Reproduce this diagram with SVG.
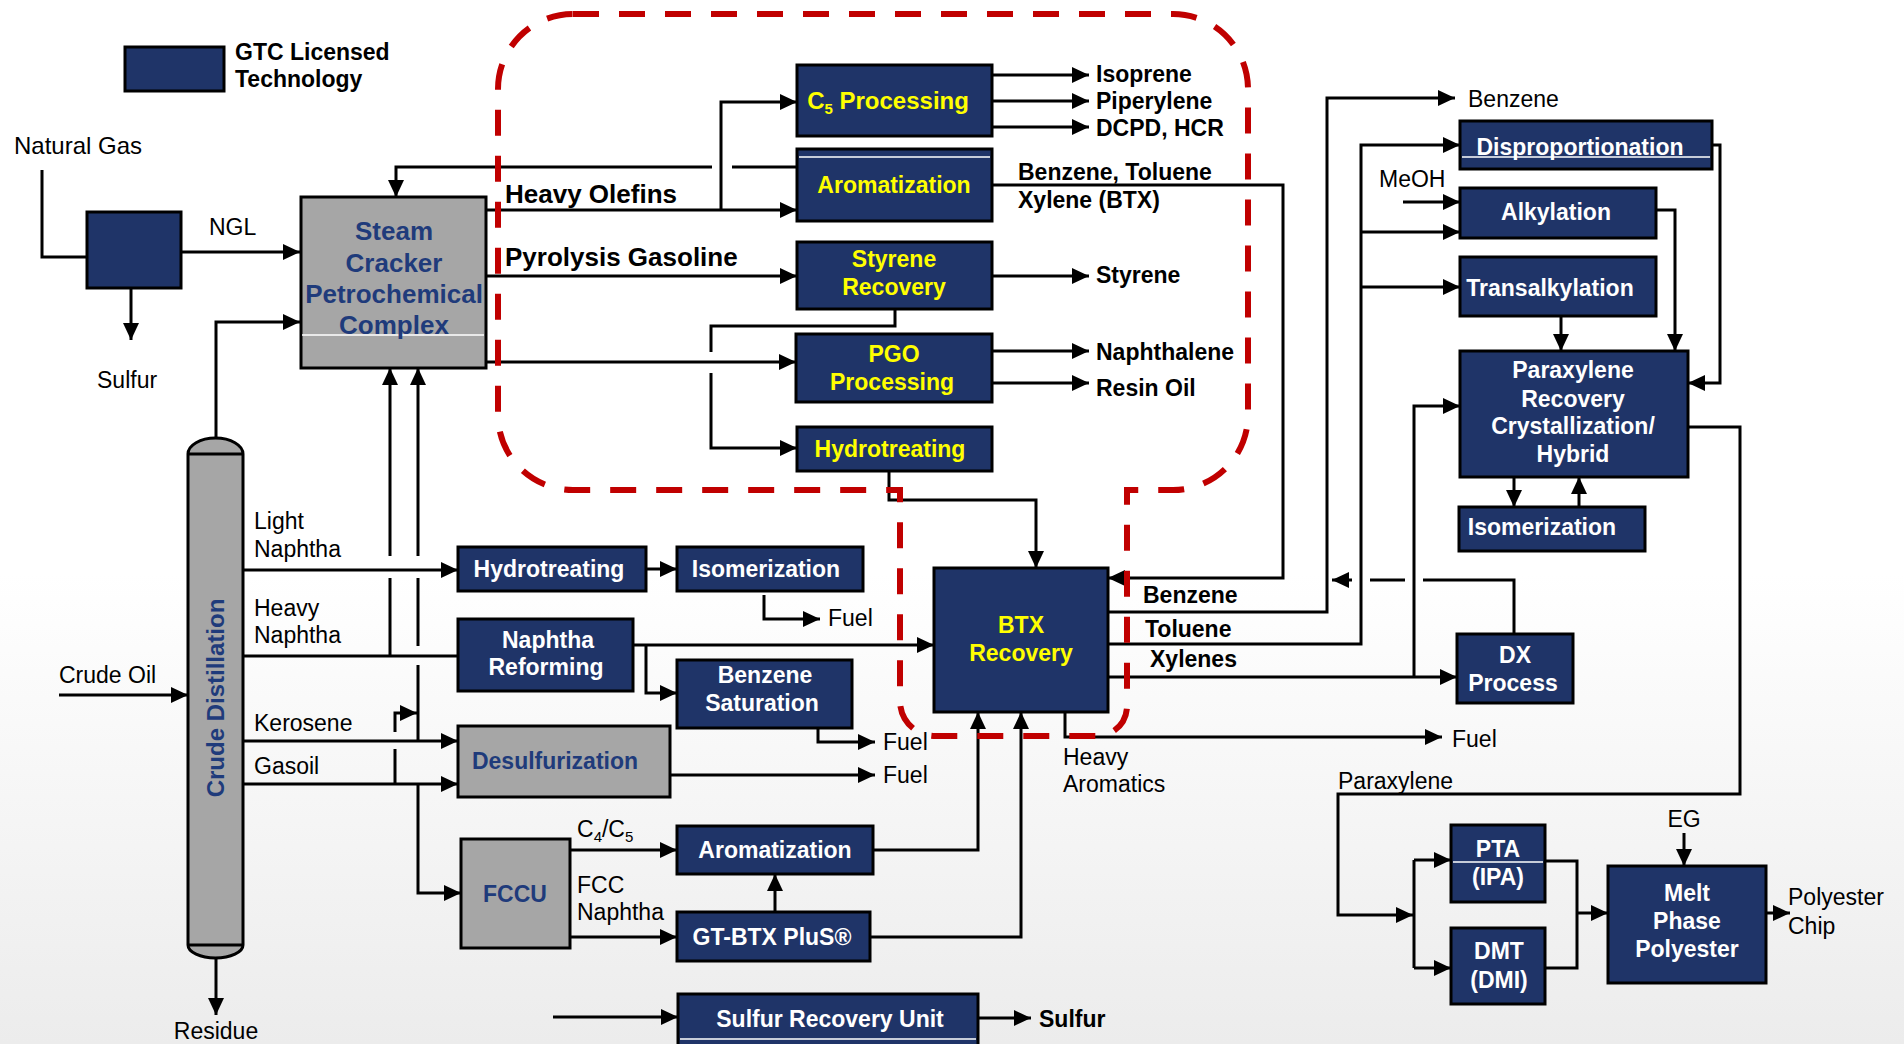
<svg xmlns="http://www.w3.org/2000/svg" width="1904" height="1044" viewBox="0 0 1904 1044">
<defs>
<linearGradient id="bg" x1="0" y1="0" x2="0" y2="1">
<stop offset="0" stop-color="#ffffff"/>
<stop offset="0.55" stop-color="#ffffff"/>
<stop offset="1" stop-color="#ececec"/>
</linearGradient>
<marker id="ah" markerUnits="userSpaceOnUse" markerWidth="17" markerHeight="16" refX="17" refY="8" orient="auto">
<path d="M0,0 L17,8 L0,16 z" fill="#000"/>
</marker>
</defs>
<style>
.nv{fill:#1f3468;stroke:#000;stroke-width:3}
.gy{fill:#a6a6a6;stroke:#000;stroke-width:3}
.ln{fill:none;stroke:#000;stroke-width:3}
.ar{fill:none;stroke:#000;stroke-width:3;marker-end:url(#ah)}
.wl{stroke:#fff;stroke-width:1.5}
text{font-family:"Liberation Sans",Arial,sans-serif}
.w{fill:#fff;font-weight:bold;font-size:23px;text-anchor:middle}
.y{fill:#ffff00;font-weight:bold;font-size:23px;text-anchor:middle}
.b{fill:#1f3b7b;font-weight:bold;font-size:23px;text-anchor:middle}
.l{fill:#000;font-size:23px}
.lb{fill:#000;font-size:23px;font-weight:bold}
</style>
<rect x="0" y="0" width="1904" height="1044" fill="url(#bg)"/>

<g id="legend">
<rect x="125" y="47" width="99" height="44" class="nv"/>
<text x="235" y="60" class="lb">GTC Licensed</text>
<text x="235" y="87" class="lb">Technology</text>
</g>

<g id="connectors">
<path class="ln" d="M42,170 V257 H87"/>
<path class="ar" d="M181,252 H300"/>
<path class="ar" d="M131,288 V340"/>
<path class="ar" d="M216,438 V322 H300"/>
<path class="ar" d="M797,167 H732 M712,167 H396 V197"/>
<path class="ar" d="M486,210 H797"/>
<path class="ar" d="M721,210 V102 H797"/>
<path class="ar" d="M486,276 H797"/>
<path class="ar" d="M486,362 H796"/>
<path class="ar" d="M895,309 V326 H711 V352 M711,373 V448 H797"/>
<path class="ar" d="M992,75 H1089"/>
<path class="ar" d="M992,101 H1089"/>
<path class="ar" d="M992,127 H1089"/>
<path class="ar" d="M992,276 H1089"/>
<path class="ar" d="M992,351 H1089"/>
<path class="ar" d="M992,383 H1089"/>
<path class="ar" d="M992,185 H1283 V578 H1108"/>
<path class="ar" d="M889,471 V500 H1036 V568"/>
<path class="ar" d="M243,570 H458"/>
<path class="ar" d="M646,569 H677"/>
<path class="ar" d="M764,595 V619 H820"/>
<path class="ln" d="M243,656 H458"/>
<path class="ar" d="M390,656 V578 M390,556 V368"/>
<path class="ar" d="M418,741 V665 M418,646 V578 M418,556 V368"/>
<path class="ar" d="M243,741 H458"/>
<path class="ar" d="M243,784 H458"/>
<path class="ar" d="M395,784 V749 M395,732 V713 H417"/>
<path class="ar" d="M418,784 V893 H461"/>
<path class="ar" d="M633,645 H934"/>
<path class="ar" d="M646,645 V693 H677"/>
<path class="ar" d="M818,728 V742 H875"/>
<path class="ar" d="M670,775 H875"/>
<path class="ar" d="M570,850 H677"/>
<path class="ar" d="M570,937 H677"/>
<path class="ar" d="M775,912 V874"/>
<path class="ar" d="M873,850 H978 V712"/>
<path class="ar" d="M870,937 H1021 V712"/>
<path class="ar" d="M553,1017 H678"/>
<path class="ar" d="M978,1018 H1031"/>
<path class="ar" d="M59,695 H188"/>
<path class="ar" d="M216,958 V1015"/>
<path class="ar" d="M1108,612 H1327 V98 H1455"/>
<path class="ar" d="M1108,644 H1361 V145 H1460"/>
<path class="ar" d="M1361,232 H1460"/>
<path class="ar" d="M1361,287 H1460"/>
<path class="ar" d="M1403,202 H1460"/>
<path class="ar" d="M1108,677 H1457"/>
<path class="ar" d="M1414,677 V406 H1460"/>
<path class="ar" d="M1514,634 V580 H1423 M1405,580 H1370 M1352,580 H1332"/>
<path class="ar" d="M1065,712 V737 H1442"/>
<path class="ar" d="M1561,316 V351"/>
<path class="ar" d="M1656,210 H1675 V351"/>
<path class="ar" d="M1712,145 H1720 V383 H1688"/>
<path class="ar" d="M1514,477 V507"/>
<path class="ar" d="M1579,507 V477"/>
<path class="ar" d="M1688,427 H1740 V794 H1338 V915 H1413"/>
<path class="ln" d="M1414,860 V968"/>
<path class="ar" d="M1414,860 H1451"/>
<path class="ar" d="M1414,968 H1451"/>
<path class="ln" d="M1545,861 H1577 V968 H1545"/>
<path class="ar" d="M1577,913 H1608"/>
<path class="ar" d="M1684,833 V866"/>
<path class="ar" d="M1766,913 H1790"/>
</g>

<g id="labels">
<text x="14" y="154" class="l" style="font-size:24px">Natural Gas</text>
<text x="209" y="235" class="l">NGL</text>
<text x="97" y="388" class="l">Sulfur</text>
<text x="505" y="203" class="lb" style="font-size:26px">Heavy Olefins</text>
<text x="505" y="266" class="lb" style="font-size:26px">Pyrolysis Gasoline</text>
<text x="1096" y="82" class="lb">Isoprene</text>
<text x="1096" y="109" class="lb">Piperylene</text>
<text x="1096" y="136" class="lb">DCPD, HCR</text>
<text x="1018" y="180" class="lb">Benzene, Toluene</text>
<text x="1018" y="208" class="lb">Xylene (BTX)</text>
<text x="1096" y="283" class="lb">Styrene</text>
<text x="1096" y="360" class="lb">Naphthalene</text>
<text x="1096" y="396" class="lb">Resin Oil</text>
<text x="254" y="529" class="l">Light</text>
<text x="254" y="557" class="l">Naphtha</text>
<text x="254" y="616" class="l">Heavy</text>
<text x="254" y="643" class="l">Naphtha</text>
<text x="254" y="731" class="l">Kerosene</text>
<text x="254" y="774" class="l">Gasoil</text>
<text x="59" y="683" class="l">Crude Oil</text>
<text x="216" y="1039" class="l" text-anchor="middle">Residue</text>
<text x="828" y="626" class="l">Fuel</text>
<text x="883" y="750" class="l">Fuel</text>
<text x="883" y="783" class="l">Fuel</text>
<text x="577" y="837" class="l">C<tspan font-size="15" dy="5">4</tspan><tspan dy="-5">/C</tspan><tspan font-size="15" dy="5">5</tspan></text>
<text x="577" y="893" class="l">FCC</text>
<text x="577" y="920" class="l">Naphtha</text>
<text x="1039" y="1027" class="lb">Sulfur</text>
<text x="1063" y="765" class="l">Heavy</text>
<text x="1063" y="792" class="l">Aromatics</text>
<text x="1143" y="603" class="lb">Benzene</text>
<text x="1145" y="637" class="lb">Toluene</text>
<text x="1150" y="667" class="lb">Xylenes</text>
<text x="1468" y="107" class="l">Benzene</text>
<text x="1379" y="187" class="l">MeOH</text>
<text x="1452" y="747" class="l">Fuel</text>
<text x="1338" y="789" class="l">Paraxylene</text>
<text x="1684" y="827" class="l" text-anchor="middle">EG</text>
<text x="1788" y="905" class="l">Polyester</text>
<text x="1788" y="934" class="l">Chip</text>
</g>

<g id="ngl-unit"><rect x="87" y="212" width="94" height="76" class="nv"/></g>

<g id="steam-cracker">
<rect x="301" y="197" width="185" height="171" class="gy"/>
<line x1="302" y1="335" x2="484" y2="335" class="wl"/>
<text x="394" y="240" class="b" style="font-size:26px">Steam</text>
<text x="394" y="272" class="b" style="font-size:26px">Cracker</text>
<text x="394" y="303" class="b" style="font-size:26px">Petrochemical</text>
<text x="394" y="334" class="b" style="font-size:26px">Complex</text>
</g>

<g id="crude-distillation">
<path d="M188,454 A27.5,16 0 0 1 243,454 V945 A27.5,13 0 0 1 188,945 Z" class="gy"/>
<line x1="188" y1="454" x2="243" y2="454" class="ln"/>
<line x1="188" y1="945" x2="243" y2="945" class="ln"/>
<text x="0" y="0" class="b" style="font-size:24px" transform="translate(224,698) rotate(-90)">Crude Distillation</text>
</g>

<g id="c5-processing">
<rect x="797" y="65" width="195" height="71" class="nv"/>
<text x="888" y="109" class="y" style="font-size:24px">C<tspan font-size="15" dy="5">5</tspan><tspan dy="-5"> Processing</tspan></text>
</g>
<g id="aromatization-top">
<rect x="797" y="149" width="195" height="72" class="nv"/>
<line x1="799" y1="157" x2="990" y2="157" class="wl"/>
<text x="894" y="193" class="y">Aromatization</text>
</g>
<g id="styrene-recovery">
<rect x="797" y="242" width="195" height="67" class="nv"/>
<text x="894" y="267" class="y">Styrene</text>
<text x="894" y="295" class="y">Recovery</text>
</g>
<g id="pgo-processing">
<rect x="796" y="334" width="196" height="68" class="nv"/>
<text x="894" y="362" class="y">PGO</text>
<text x="892" y="390" class="y">Processing</text>
</g>
<g id="hydrotreating-top">
<rect x="797" y="427" width="195" height="44" class="nv"/>
<text x="890" y="457" class="y">Hydrotreating</text>
</g>
<g id="hydrotreating">
<rect x="458" y="547" width="188" height="44" class="nv"/>
<text x="549" y="577" class="w">Hydrotreating</text>
</g>
<g id="isomerization">
<rect x="677" y="547" width="186" height="44" class="nv"/>
<text x="766" y="577" class="w">Isomerization</text>
</g>
<g id="naphtha-reforming">
<rect x="458" y="619" width="175" height="72" class="nv"/>
<text x="548" y="648" class="w">Naphtha</text>
<text x="546" y="675" class="w">Reforming</text>
</g>
<g id="benzene-saturation">
<rect x="677" y="660" width="175" height="68" class="nv"/>
<text x="765" y="683" class="w">Benzene</text>
<text x="762" y="711" class="w">Saturation</text>
</g>
<g id="desulfurization">
<rect x="458" y="726" width="212" height="71" class="gy"/>
<text x="555" y="769" class="b">Desulfurization</text>
</g>
<g id="fccu">
<rect x="461" y="839" width="109" height="109" class="gy"/>
<text x="515" y="902" class="b">FCCU</text>
</g>
<g id="aromatization-fcc">
<rect x="677" y="826" width="196" height="48" class="nv"/>
<text x="775" y="858" class="w">Aromatization</text>
</g>
<g id="gt-btx-plus">
<rect x="677" y="912" width="193" height="49" class="nv"/>
<text x="772" y="945" class="w">GT-BTX PluS®</text>
</g>
<g id="sulfur-recovery">
<rect x="678" y="994" width="300" height="54" class="nv"/>
<line x1="680" y1="1039" x2="976" y2="1039" class="wl"/>
<text x="830" y="1027" class="w">Sulfur Recovery Unit</text>
</g>
<g id="btx-recovery">
<rect x="934" y="568" width="174" height="144" class="nv"/>
<text x="1021" y="633" class="y">BTX</text>
<text x="1021" y="661" class="y">Recovery</text>
</g>
<g id="disproportionation">
<rect x="1460" y="121" width="252" height="48" class="nv"/>
<line x1="1462" y1="157" x2="1710" y2="157" class="wl"/>
<text x="1580" y="155" class="w">Disproportionation</text>
</g>
<g id="alkylation">
<rect x="1460" y="188" width="196" height="50" class="nv"/>
<text x="1556" y="220" class="w">Alkylation</text>
</g>
<g id="transalkylation">
<rect x="1460" y="257" width="196" height="59" class="nv"/>
<text x="1550" y="296" class="w">Transalkylation</text>
</g>
<g id="paraxylene-recovery">
<rect x="1460" y="351" width="228" height="126" class="nv"/>
<text x="1573" y="378" class="w">Paraxylene</text>
<text x="1573" y="407" class="w">Recovery</text>
<text x="1573" y="434" class="w">Crystallization/</text>
<text x="1573" y="462" class="w">Hybrid</text>
</g>
<g id="isomerization-px">
<rect x="1459" y="507" width="186" height="44" class="nv"/>
<text x="1542" y="535" class="w">Isomerization</text>
</g>
<g id="dx-process">
<rect x="1457" y="634" width="116" height="69" class="nv"/>
<text x="1515" y="663" class="w">DX</text>
<text x="1513" y="691" class="w">Process</text>
</g>
<g id="pta">
<rect x="1451" y="825" width="94" height="77" class="nv"/>
<line x1="1453" y1="862" x2="1543" y2="862" class="wl"/>
<text x="1498" y="857" class="w">PTA</text>
<text x="1498" y="885" class="w">(IPA)</text>
</g>
<g id="dmt">
<rect x="1451" y="928" width="94" height="76" class="nv"/>
<text x="1499" y="959" class="w">DMT</text>
<text x="1499" y="988" class="w">(DMI)</text>
</g>
<g id="melt-phase">
<rect x="1608" y="866" width="158" height="117" class="nv"/>
<text x="1687" y="901" class="w">Melt</text>
<text x="1687" y="929" class="w">Phase</text>
<text x="1687" y="957" class="w">Polyester</text>
</g>

<g id="gtc-boundary">
<path d="M573,14 H1173 A75,75 0 0 1 1248,89 V415 A75,75 0 0 1 1173,490 H1127 V706 A30,30 0 0 1 1097,736 H935 A35,35 0 0 1 900,701 V490 H573 A75,75 0 0 1 498,415 V89 A75,75 0 0 1 573,14 Z" fill="none" stroke="#c00000" stroke-width="6" stroke-dasharray="26 20"/>
</g>
</svg>
